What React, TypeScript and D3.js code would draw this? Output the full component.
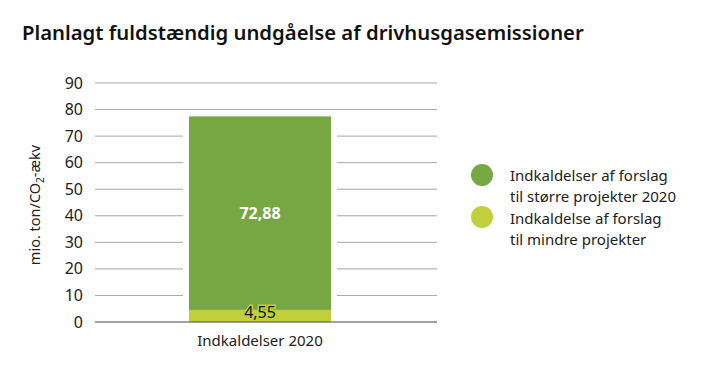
import React from "react";
import * as d3 from "d3";

const categories = ["Indkaldelser 2020"];
const smallValues = [4.55];
const largeValues = [72.88];
const yTicks = [0, 10, 20, 30, 40, 50, 60, 70, 80, 90];
const legendLines = [
  ["Indkaldelser af forslag", "til større projekter 2020"],
  ["Indkaldelse af forslag", "til mindre projekter"],
];
const colors = { large: "#76a743", small: "#c1cf3c" };

export default function App() {
  const W = 726, H = 369;
  const font = "'Noto Sans', sans-serif";
  const y = d3.scaleLinear().domain([0, 90]).range([322, 83]);
  const x = d3.scaleBand().domain(categories).range([189, 331]).padding(0);
  const fmt = (v: number) => v.toFixed(2).replace(".", ",");
  return (
    <svg width={W} height={H} style={{ position: "absolute", left: 0, top: 0 }} fontFamily={font}>
      <rect width={W} height={H} fill="#fff" />
      <text x={22} y={40} fontSize={20.3} fontWeight={600} fill="#111">
        Planlagt fuldstændig undgåelse af drivhusgasemissioner
      </text>
      {yTicks.map((t) => (
        <g key={t}>
          {t > 0 && <line x1={95} x2={437} y1={y(t)} y2={y(t)} stroke="#a6a6a6" strokeWidth={1} />}
          <text x={83} y={y(t)} dy="0.35em" textAnchor="end" fontSize={16} fill="#222">{t}</text>
        </g>
      ))}
      {categories.map((c, i) => {
        const bx = x(c)!;
        const bw = x.bandwidth();
        const s = smallValues[i];
        const l = largeValues[i];
        return (
          <g key={c}>
            <rect x={bx - 6} width={bw + 12} y={y(s + l)} height={y(0) - y(s + l)} fill="#fff" />
            <rect x={bx} width={bw} y={y(s)} height={y(0) - y(s)} fill={colors.small} />
            <rect x={bx} width={bw} y={y(s + l)} height={y(s) - y(s + l)} fill={colors.large} />
            <text x={bx + bw / 2} y={(y(s) + y(s + l)) / 2} dy="0.35em" textAnchor="middle" fontSize={16} fontWeight={700} fill="#fff">{fmt(l)}</text>
            <text x={bx + bw / 2} y={y(s) + 8} textAnchor="middle" fontSize={16} fill="#111" stroke={colors.small} strokeWidth={3} paintOrder="stroke">{fmt(s)}</text>
            <text x={bx + bw / 2} y={346} textAnchor="middle" fontSize={15} fill="#222">{c}</text>
          </g>
        );
      })}
      <line x1={95} x2={437} y1={y(0)} y2={y(0)} stroke="#444" strokeWidth={1} />
      <text transform={`translate(40,205) rotate(-90)`} textAnchor="middle" fontSize={14.5} fill="#222">
        mio. ton/CO<tspan fontSize={10} dy={4}>2</tspan><tspan dy={-4}>-ækv</tspan>
      </text>
      {legendLines.map((lines, i) => (
        <g key={i}>
          <circle cx={482} cy={175 + i * 42} r={11} fill={i === 0 ? colors.large : colors.small} />
          {lines.map((ln, j) => (
            <text key={j} x={510} y={181 + i * 43 + j * 21} fontSize={15} fill="#222">{ln}</text>
          ))}
        </g>
      ))}
    </svg>
  );
}
